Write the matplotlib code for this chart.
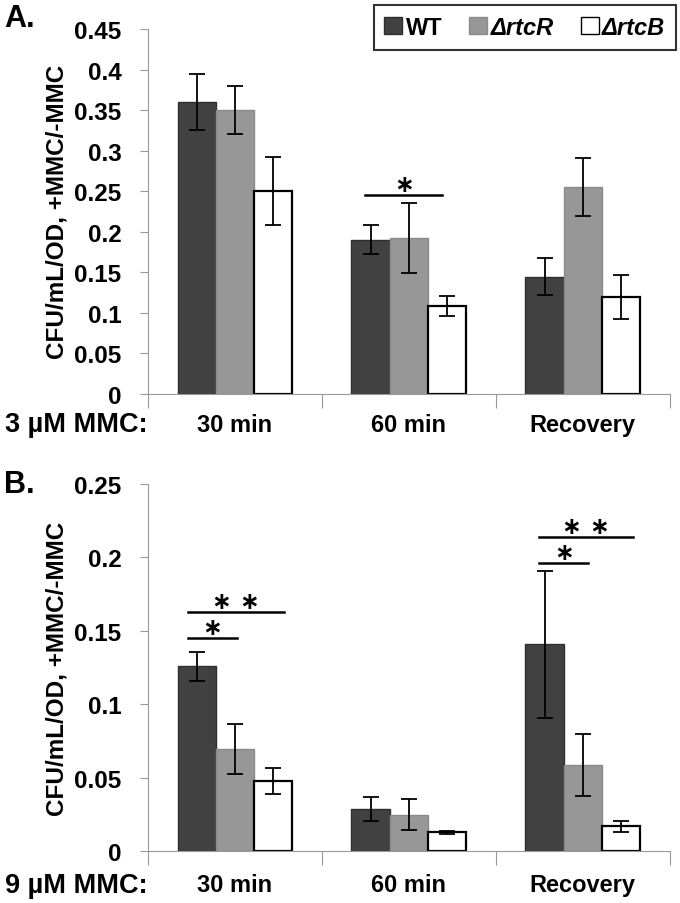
import numpy as np
import matplotlib
matplotlib.use("Agg")
import matplotlib.pyplot as plt
from matplotlib.patches import Patch

plt.rcParams['font.family'] = ['Liberation Sans', 'DejaVu Sans']
plt.rcParams['font.weight'] = 'bold'

# données
categories = ["30 min", "60 min", "Recovery"]
strains = ["WT", "ΔrtcR", "ΔrtcB"]

# panneau A : 3 µM MMC
a_wt = [0.360, 0.190, 0.144]
a_rtcr = [0.350, 0.192, 0.255]
a_rtcb = [0.250, 0.108, 0.119]
a_wt_err = [0.035, 0.018, 0.023]
a_rtcr_err = [0.030, 0.043, 0.036]
a_rtcb_err = [0.042, 0.012, 0.027]

# panneau B : 9 µM MMC
b_wt = [0.126, 0.029, 0.141]
b_rtcr = [0.070, 0.025, 0.059]
b_rtcb = [0.048, 0.013, 0.017]
b_wt_err = [0.010, 0.008, 0.050]
b_rtcr_err = [0.017, 0.0105, 0.021]
b_rtcb_err = [0.009, 0.001, 0.004]

colors = ["#414141", "#979797", "#ffffff"]
edges = ["#2e2e2e", "#8a8a8a", "#000000"]
width = 0.22


def draw_panel(ax, vals, errs, ymax, step, lab_off):
    x = np.arange(len(categories))
    for i in range(3):
        ax.bar(x + (i - 1) * width, vals[i], width, color=colors[i],
               edgecolor=edges[i], linewidth=1.6 if i == 2 else 1.0, zorder=2)
        ax.errorbar(x + (i - 1) * width, vals[i], yerr=errs[i], fmt='none',
                    ecolor='black', elinewidth=1.3, capsize=6, capthick=1.3, zorder=3)
    ax.set_xlim(-0.5, 2.5)
    ax.set_ylim(0, ymax)
    ticks = np.arange(0, ymax + step / 2, step)
    ax.set_yticks(ticks)
    ax.set_yticklabels([(f"{t:.2f}".rstrip('0').rstrip('.') or "0") for t in ticks],
                       fontsize=17.5, fontweight='bold')
    ax.set_xticks([-0.5, 0.5, 1.5, 2.5])
    ax.set_xticklabels([])
    ax.tick_params(axis='x', length=10, color='#999999', direction='out')
    ax.tick_params(axis='y', length=6, color='#999999', direction='out', pad=13)
    ax.spines['top'].set_visible(False)
    ax.spines['right'].set_visible(False)
    ax.spines['left'].set_color('#999999')
    ax.spines['bottom'].set_color('#999999')
    ax.set_ylabel("CFU/mL/OD, +MMC/-MMC", fontsize=17.5, fontweight='bold')
    ax.yaxis.set_label_coords(-0.153, 0.5)
    for k, c in enumerate(categories):
        ax.text(k, lab_off, c, transform=ax.get_xaxis_transform(),
                ha='center', va='center', fontsize=17, fontweight='bold')


def sig(ax, x0, x1, y, label):
    ax.plot([x0, x1], [y, y], color='black', lw=1.8, zorder=4)
    ax.annotate(label, ((x0 + x1) / 2, y), xytext=(0, 8), textcoords='offset points',
                ha='center', va='center', fontsize=17, fontweight='bold',
                family=['DejaVu Sans'])


fig = plt.figure(figsize=(6.8, 9.04), dpi=100)
axA = fig.add_axes([0.2176, 0.5636, 0.7674, 0.4032])
axB = fig.add_axes([0.2176, 0.0570, 0.7674, 0.4065])

draw_panel(axA, [a_wt, a_rtcr, a_rtcb], [a_wt_err, a_rtcr_err, a_rtcb_err],
           0.45, 0.05, -0.085)
draw_panel(axB, [b_wt, b_rtcr, b_rtcb], [b_wt_err, b_rtcr_err, b_rtcb_err],
           0.25, 0.05, -0.091)

# étoiles de significativité
sig(axA, 0.75, 1.19, 0.245, "∗")
sig(axB, -0.27, 0.01, 0.145, "∗")
sig(axB, -0.27, 0.28, 0.163, "∗ ∗")
sig(axB, 1.75, 2.03, 0.196, "∗")
sig(axB, 1.75, 2.29, 0.214, "∗ ∗")

fig.text(0.008, 0.5299, "3 µM MMC:", fontsize=19.5, fontweight='bold', va='center')
fig.text(0.008, 0.0199, "9 µM MMC:", fontsize=19.5, fontweight='bold', va='center')
fig.text(0.006, 0.979, "A.", fontsize=22, fontweight='bold', va='center')
fig.text(0.006, 0.4635, "B.", fontsize=22, fontweight='bold', va='center')

handles = [Patch(facecolor=colors[i], edgecolor=edges[i], linewidth=1.0) for i in range(3)]
leg = fig.legend(handles, strains, loc='upper right', bbox_to_anchor=(0.994, 0.993),
                 ncol=3, frameon=True, fancybox=False, edgecolor='black',
                 handlelength=0.75, handleheight=0.75, handletextpad=0.15,
                 columnspacing=1.15, borderpad=0.45, borderaxespad=0.0,
                 prop={'size': 17, 'weight': 'bold'})
leg.get_frame().set_linewidth(1.5)
for t in leg.get_texts()[1:]:
    t.set_fontstyle('italic')

fig.savefig("out.png", dpi=100)
